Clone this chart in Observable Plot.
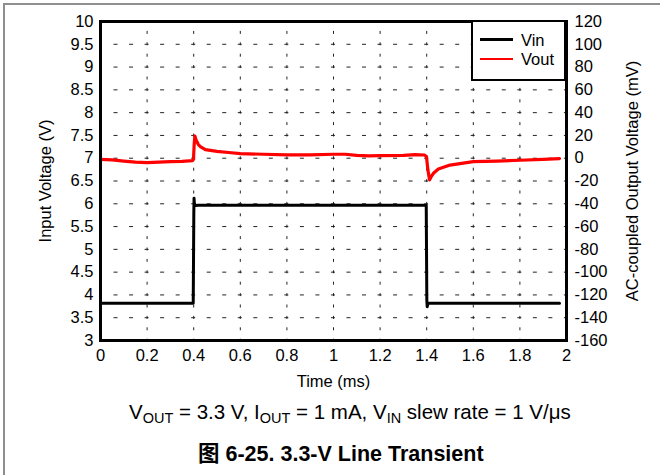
<!DOCTYPE html>
<html><head><meta charset="utf-8">
<script src="https://cdn.jsdelivr.net/npm/d3@7"></script>
<script src="https://cdn.jsdelivr.net/npm/@observablehq/plot@0.6"></script>
<style>
body{margin:0;background:#fff;font-family:"Liberation Sans",Arial,"Noto Sans CJK SC",sans-serif;}
#wrap{position:relative;width:660px;height:475px;overflow:hidden;background:#fff;}
#border{position:absolute;left:3px;top:3px;width:760px;height:600px;border-left:2px solid #8f8f8f;border-top:2px solid #8f8f8f;}
#chart{position:absolute;left:0;top:0;}
#legend{position:absolute;left:471px;top:20px;width:95px;height:61px;box-sizing:border-box;border:2.5px solid #000;background:#fff;}
.lg{position:absolute;left:7px;width:33px;height:2.5px;}
.lt{position:absolute;left:48px;font-size:16.5px;line-height:16px;color:#000;}
#cap{position:absolute;left:129px;top:400px;font-size:20.5px;white-space:nowrap;color:#000;}
#cap sub{font-size:14.5px;vertical-align:-4px;line-height:0;}
#ttl{position:absolute;left:198px;top:436px;font-size:21.5px;font-weight:bold;white-space:nowrap;color:#000;}
</style></head>
<body>
<div id="wrap">
<div id="border"></div>
<div id="chart"></div>
<div id="legend"></div>
<div id="cap"></div>
<div id="ttl"></div>
</div>
<script>
// ---- data ----
const xTicks = [0, 0.2, 0.4, 0.6, 0.8, 1, 1.2, 1.4, 1.6, 1.8, 2];
const yTicksLeft = [3, 3.5, 4, 4.5, 5, 5.5, 6, 6.5, 7, 7.5, 8, 8.5, 9, 9.5, 10];
const yTicksRight = [-160, -140, -120, -100, -80, -60, -40, -20, 0, 20, 40, 60, 80, 100, 120];
const seriesNames = ["Vin", "Vout"];
const seriesColors = ["#000000", "#ff0000"];

// Vin (V) vs time (ms)
const vinT = [0, 0.1, 0.2, 0.3, 0.398, 0.4005, 0.4015, 0.403, 0.406, 0.42, 0.6, 0.8, 1.0, 1.2, 1.398, 1.4005, 1.402, 1.405, 1.41, 1.5, 1.7, 1.97];
const vinV = [3.82, 3.82, 3.82, 3.82, 3.82, 5.8, 6.12, 6.0, 5.96, 5.97, 5.97, 5.97, 5.97, 5.97, 5.97, 3.9, 3.74, 3.8, 3.82, 3.82, 3.82, 3.82];

// Vout (AC-coupled, mV) vs time (ms)
const voutT = [0, 0.05, 0.1, 0.15, 0.2, 0.25, 0.3, 0.35, 0.395, 0.399, 0.402, 0.405, 0.41, 0.42, 0.43, 0.45, 0.5, 0.55, 0.6, 0.7, 0.8, 0.9, 1.0, 1.05, 1.1, 1.15, 1.2, 1.3, 1.35, 1.39, 1.399, 1.405, 1.412, 1.42, 1.43, 1.45, 1.5, 1.55, 1.6, 1.7, 1.8, 1.9, 1.97];
const voutMV = [-1, -1.5, -2.5, -3.5, -3.8, -3.5, -3, -2.7, -2.2, -1, 12, 19.5, 16, 12, 10, 7.5, 6, 5, 4, 3.5, 3, 3, 3.5, 3.5, 2.5, 2, 2.2, 2.5, 3.2, 2.8, 1.5, -10, -19, -16, -13, -9.5, -6, -4.5, -3, -2.5, -1.8, -1, -0.3];

const captionParts = ["V", "OUT", " = 3.3 V, I", "OUT", " = 1 mA, V", "IN", " slew rate = 1 V/μs"];
const titleText = "图 6-25. 3.3-V Line Transient";
const xLabel = "Time (ms)";
const yLabelLeft = "Input Voltage (V)";
const yLabelRight = "AC-coupled Output Voltage (mV)";

// right axis (mV) is tied to the left (V): 0 mV ↔ 7 V, 40 mV per V
const mvToV = mv => 7 + mv / 40;
const vToMv = v => (v - 7) * 40;

const font = "Liberation Sans, Arial, sans-serif";
const chart = Plot.plot({
  width: 660, height: 392,
  marginLeft: 100, marginRight: 94, marginTop: 21, marginBottom: 52,
  style: {fontFamily: font, fontSize: "16.5px", color: "#000", background: "transparent", overflow: "visible"},
  x: {domain: [0, 2]},
  y: {domain: [3, 10]},
  marks: [
    Plot.gridX(xTicks.slice(1, -1), {stroke: "#222", strokeOpacity: 1, strokeWidth: 1, strokeDasharray: "3,8.4", strokeDashoffset: 1.5}),
    Plot.gridY(yTicksLeft.slice(1, -1), {stroke: "#222", strokeOpacity: 1, strokeWidth: 1, strokeDasharray: "4,11.53", strokeDashoffset: 2}),
    Plot.axisX(xTicks, {tickSize: 0, tickPadding: 9, tickFormat: d => String(+d.toFixed(1)), label: xLabel, labelAnchor: "center", labelArrow: false, labelOffset: 46}),
    Plot.axisY(yTicksLeft, {anchor: "left", tickSize: 0, tickPadding: 7, tickFormat: d => String(d), label: yLabelLeft, labelAnchor: "center", labelArrow: false, labelOffset: 61}),
    Plot.axisY(yTicksRight.map(mvToV), {anchor: "right", tickSize: 0, tickPadding: 8, tickFormat: d => String(Math.round(vToMv(d))), label: yLabelRight, labelAnchor: "center", labelArrow: false, labelOffset: 71}),
    Plot.line(vinT, {x: vinT, y: vinV, stroke: seriesColors[0], strokeWidth: 3, curve: "linear"}),
    Plot.line(voutT, {x: voutT, y: voutMV.map(mvToV), stroke: seriesColors[1], strokeWidth: 3.2, curve: "linear"}),
    Plot.frame({stroke: "#000", strokeWidth: 3})
  ]
});
document.getElementById("chart").appendChild(chart);

// legend
const lg = document.getElementById("legend");
seriesNames.forEach((n, i) => {
  const line = document.createElement("div");
  line.className = "lg";
  line.style.top = (20 + i * 19.5 - 1.25 - 2.5) + "px";
  line.style.background = seriesColors[i];
  lg.appendChild(line);
  const t = document.createElement("div");
  t.className = "lt";
  t.style.top = (20 + i * 19.5 - 8 - 2.5) + "px";
  t.textContent = n;
  lg.appendChild(t);
});

// caption
const cap = document.getElementById("cap");
captionParts.forEach((p, i) => {
  if (i % 2 === 1) { const s = document.createElement("sub"); s.textContent = p; cap.appendChild(s); }
  else cap.appendChild(document.createTextNode(p));
});
document.getElementById("ttl").textContent = titleText;
</script>
</body></html>
